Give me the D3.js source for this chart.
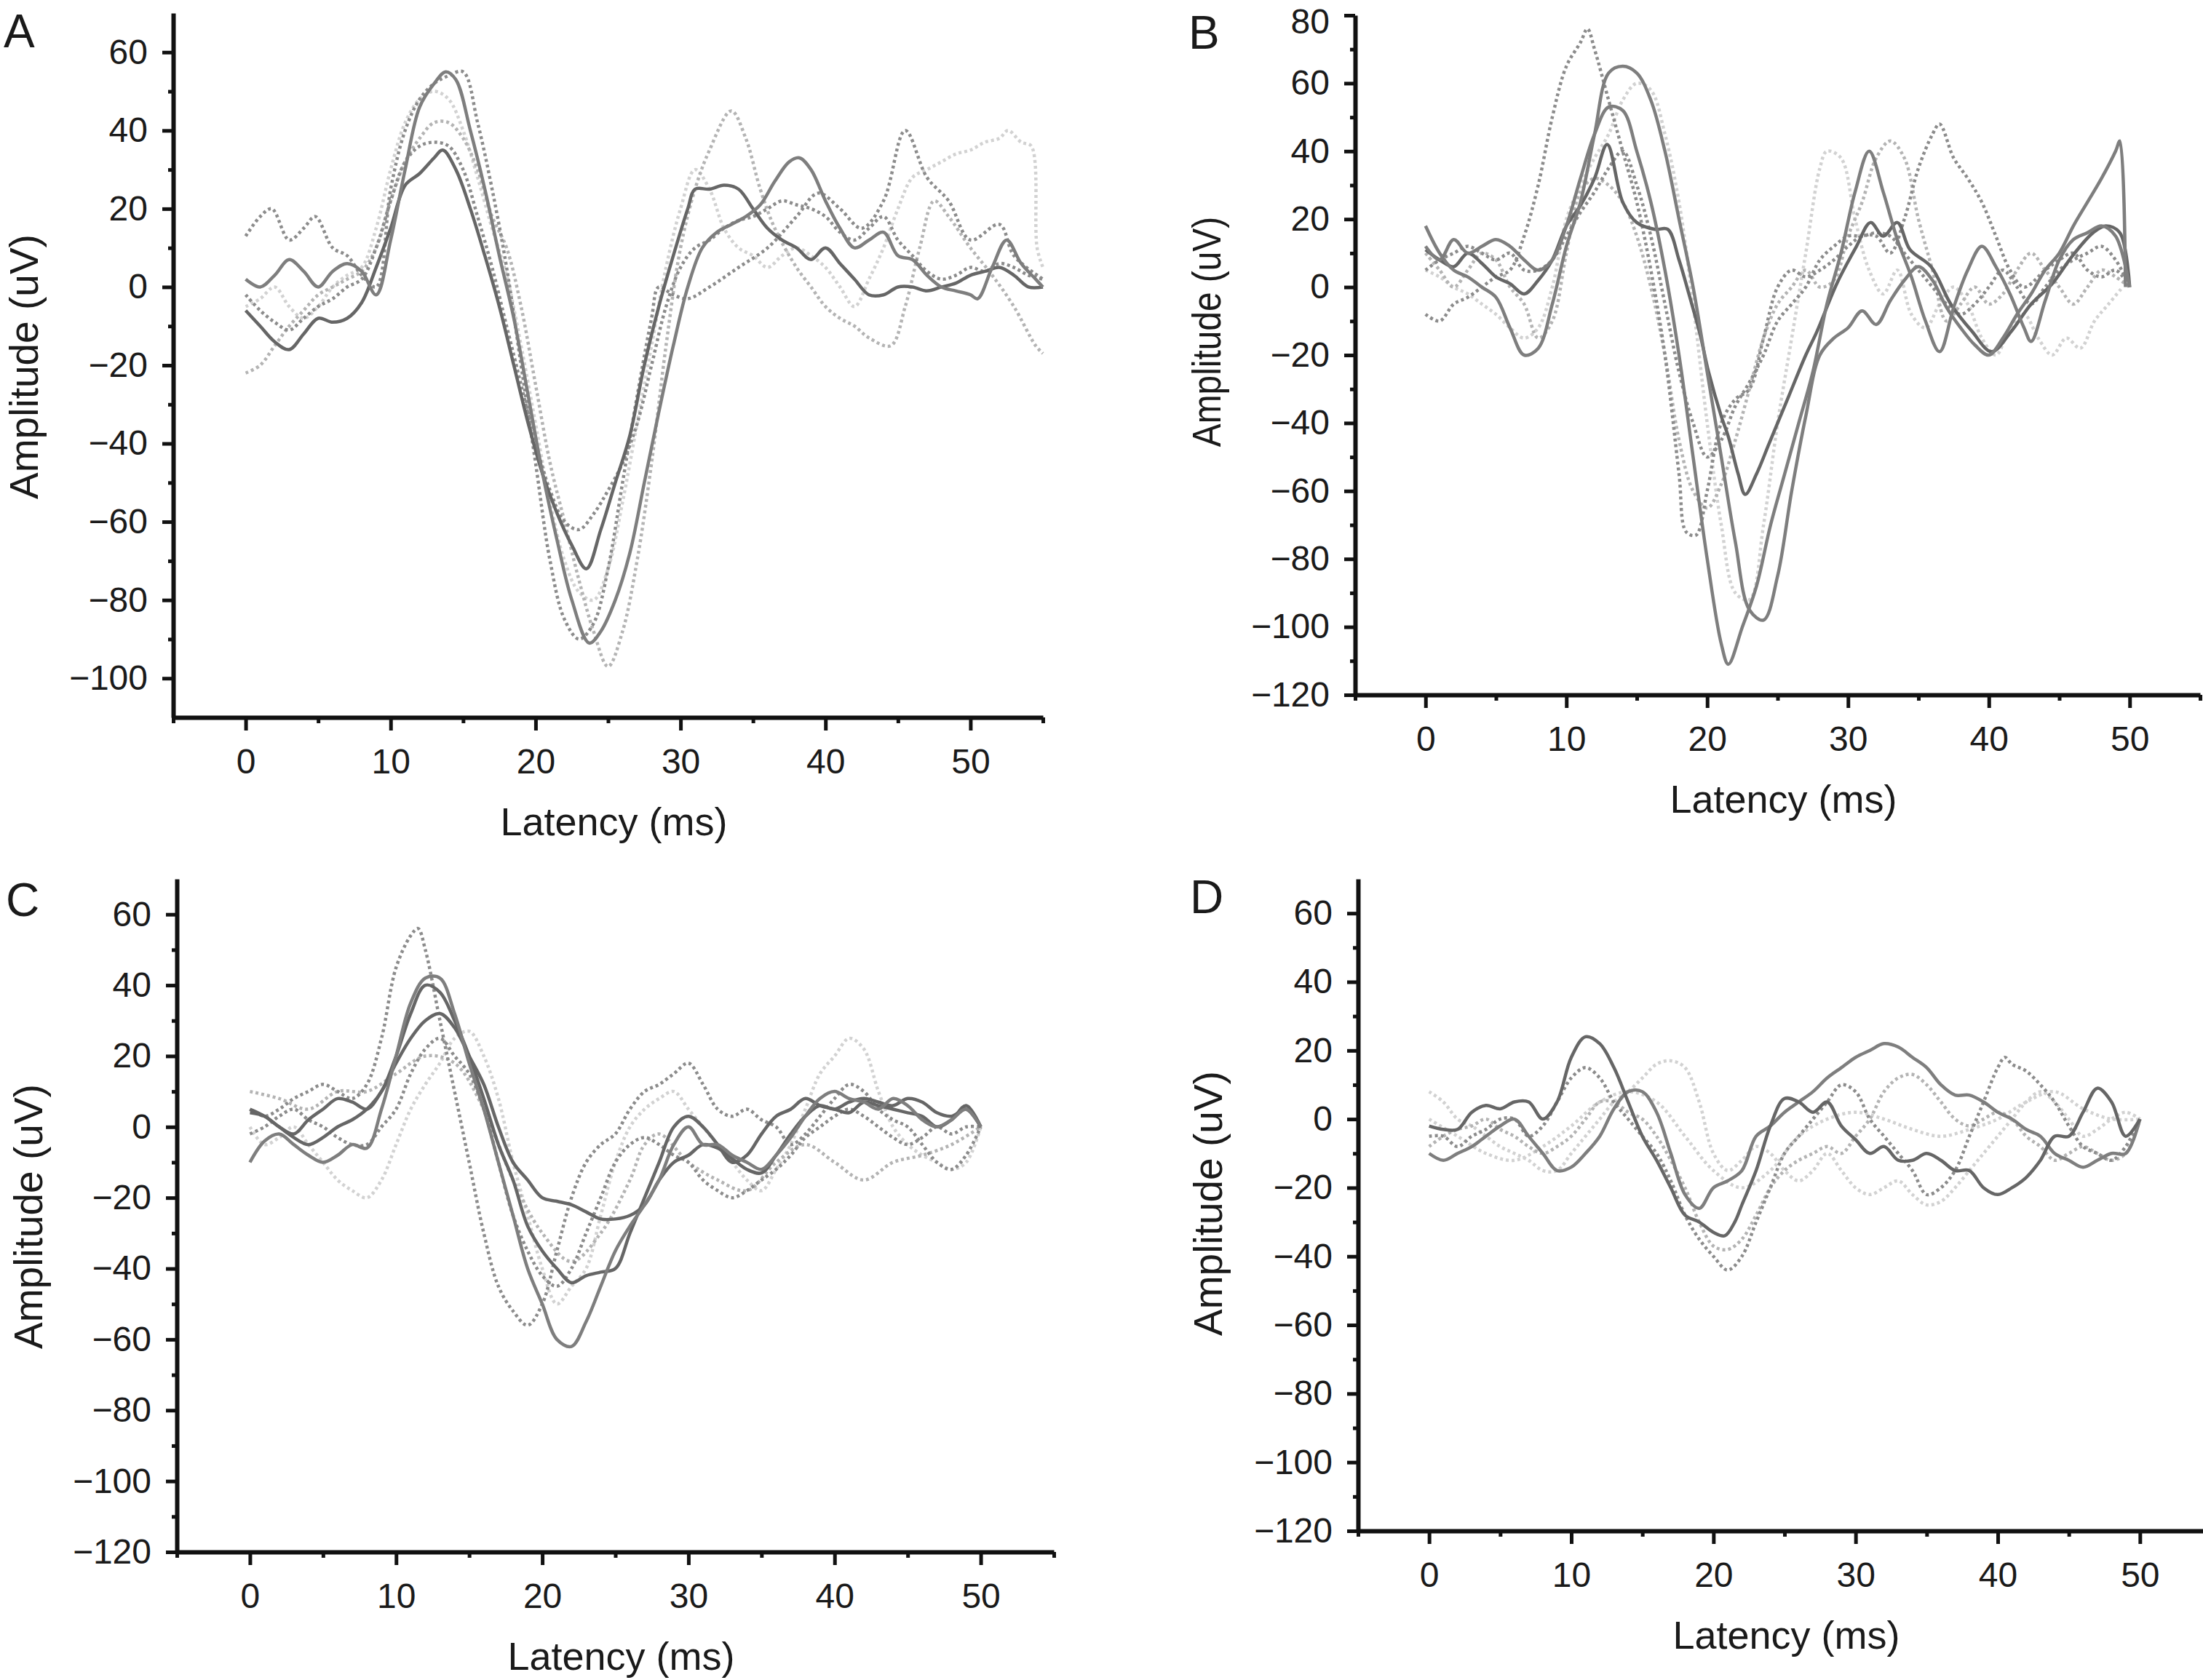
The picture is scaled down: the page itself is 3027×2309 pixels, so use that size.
<!DOCTYPE html>
<html>
<head>
<meta charset="utf-8">
<script src="https://cdn.jsdelivr.net/npm/d3@7.9.0/dist/d3.min.js"></script>
<style>
  body { margin: 0; background: #fff; }
  svg { display: block; }
  text { font-family: "Liberation Sans", Arial, sans-serif; fill: #1a1a1a; }
</style>
</head>
<body>
<svg id="chart" width="3027" height="2309"></svg>
<script>
// ---- tick values ----
const xTickLabels = [0, 10, 20, 30, 40, 50];
const xTickMajor = [0, 10, 20, 30, 40, 50];
const xTickMinor = [-5, 5, 15, 25, 35, 45, 55];

// ---- panel A traces: [latency ms, amplitude uV] ----
const aSolid1 = [[0,2],[1,0],[2,3],[3,7],[4,4],[5,0],[6,4],[7,6],[8,4],[9,-2],[10,12],[11,30],[12,46],[13,52],[13.8,55],[14.5,53],[15.5,40],[16.5,25],[17.5,8],[18.5,-8],[19.5,-28],[20.5,-48],[21.5,-65],[22.5,-80],[23.7,-91],[24.5,-88],[25.5,-80],[26.5,-68],[27.5,-50],[28.5,-32],[29.5,-15],[30.5,0],[31.5,10],[32.5,14],[33.5,16],[34.5,18],[35.5,21],[36.5,27],[37.5,32],[38.2,33],[39,30],[40,22],[41,15],[42,10],[43,12],[44,14],[45,8],[46,7],[47,3],[48,0],[49,-1],[50,-2],[50.5,-3],[51.5,5],[52.5,12],[53.5,6],[54.5,2],[55,0]];
const aSolid2 = [[0,-6],[1,-10],[2,-14],[3,-16],[4,-12],[5,-8],[6,-9],[7,-8],[8,-4],[9,5],[10,15],[11,26],[12,29],[13,33],[13.6,35],[14.5,30],[15.5,20],[16.5,8],[17.5,-5],[18.5,-20],[19.5,-35],[20.5,-48],[21.5,-58],[22.5,-66],[23.5,-72],[24.5,-62],[25.5,-50],[26.5,-38],[27.5,-20],[28.5,-5],[29.5,8],[30.5,20],[31,25],[32,25],[33,26],[34,25],[35,20],[36,15],[37,12],[38,10],[39,7],[40,10],[41,6],[42,2],[43,-2],[44,-2],[45,0],[46,0],[47,-1],[48,0],[49,1],[50,3],[51,4],[52,5],[53,3],[54,0],[55,0]];
const aDot1 = [[0,13],[1,18],[1.8,20],[3,12],[4,15],[4.8,18],[6,10],[7,8],[8,3],[9,0],[10,25],[11,40],[12,48],[13,52],[14,54],[15,55],[16,42],[17,25],[18,5],[19,-20],[20,-45],[21,-70],[22,-85],[23,-90],[24,-86],[25,-72],[26,-50],[27,-28],[28,-8],[28.5,0],[29.5,-2],[30.5,-3],[32,0],[34,5],[36,10],[38,18],[39.5,24],[41,20],[42.5,15],[44,22],[45.5,40],[47,28],[48.5,22],[50,12],[52,16],[53,8],[55,2]];
const aDot2 = [[0,-22],[1,-20],[2,-15],[3,-10],[4,-6],[5,-2],[6,0],[7,2],[8,4],[9,10],[10,22],[11,32],[12,38],[13,42],[14,42],[15,38],[16,30],[17,18],[18,10],[19,-5],[20,-25],[21,-45],[22,-60],[23,-75],[24,-88],[25,-97],[26,-88],[27,-70],[28,-45],[29,-15],[30,10],[31,25],[32,35],[33.5,45],[34.5,38],[35.5,25],[36.5,15],[38,5],[39,0],[40,-5],[41,-8],[42,-10],[43,-13],[44.5,-15],[45.5,-5],[46.5,10],[47.5,22],[48.5,18],[50,10],[51.5,3],[53,-5],[54.5,-15],[55,-17]];
const aDot3 = [[0,-5],[1,-3],[2,0],[3,-5],[4,-8],[5,-5],[6,0],[7,3],[8,5],[9,15],[10,30],[11,42],[12,48],[13,50],[14,48],[15,40],[16,28],[17,15],[18,3],[19,-15],[20,-35],[21,-55],[22,-70],[23,-78],[24,-80],[25,-72],[26,-55],[27,-35],[28,-15],[29,5],[30,20],[31,30],[32,25],[33,15],[34,10],[35,8],[36,5],[37,8],[38,10],[39,8],[40,5],[41,0],[42,-5],[43,2],[44,10],[45,20],[46,28],[47,30],[48,32],[49,34],[50,35],[51,37],[52,38],[52.6,40],[53.5,37],[54.2,36],[54.6,10],[55,5]];
const aDot4 = [[0,-2],[1,-6],[2,-9],[3,-11],[4,-8],[5,-5],[6,-3],[7,0],[8,2],[9,10],[10,22],[11,32],[12,36],[13,37],[14,36],[15,30],[16,18],[17,5],[18,-10],[19,-25],[20,-40],[21,-52],[22,-60],[23,-62],[24,-58],[25,-52],[26,-45],[27,-35],[28,-20],[29,-5],[30,5],[31,10],[32,12],[33,15],[34,17],[35,18],[36,20],[37,22],[38,21],[39,20],[40,18],[41,14],[42,12],[43,15],[44,18],[45,12],[46,8],[47,4],[48,2],[49,3],[50,5],[51,4],[52,6],[53,5],[54,3],[55,2]];

// ---- panel B traces ----
const bSolid1 = [[0,18],[1,10],[2,5],[3,3],[4,0],[5,-3],[6,-12],[7,-20],[8,-18],[9,-5],[10,12],[11,25],[12,45],[13,63],[14,65],[15,63],[16,55],[17,40],[18,20],[19,0],[20,-25],[21,-50],[22,-75],[23,-95],[24,-98],[25,-85],[26,-60],[27,-38],[28,-20],[29,-15],[30,-12],[31,-7],[32,-11],[33,-4],[34,2],[35,6],[36,2],[37,-6],[38,-12],[39,-17],[40,-20],[41,-15],[42,-8],[43,-2],[44,5],[45,10],[46,18],[47,25],[48,32],[49,40],[49.3,43],[49.7,0]];
const bSolid2 = [[0,12],[1,8],[2,14],[3,10],[4,12],[5,14],[6,12],[7,8],[8,5],[9,8],[10,18],[11,32],[12,45],[13,53],[14,52],[15,40],[16,25],[17,5],[18,-20],[19,-50],[20,-80],[21,-105],[21.5,-111],[22.5,-100],[23.5,-88],[24.5,-70],[25.5,-55],[26.5,-40],[27.5,-25],[28.5,-5],[29.5,10],[30.5,28],[31.5,40],[32.5,28],[33.5,14],[34.5,3],[35.5,-10],[36.5,-19],[37.5,-6],[38.5,5],[39.5,12],[40.5,6],[41.5,-2],[42.5,-12],[43,-16],[44,-4],[45,8],[46,14],[47,16],[48,18],[49,15],[50,0]];
const bSolid3 = [[0,11],[1,8],[2,6],[3,10],[4,7],[5,3],[6,1],[7,-2],[8,2],[9,8],[10,18],[11,24],[12,32],[12.9,42],[14,25],[15,19],[16.3,17],[17.2,17],[18,8],[18.7,-2],[19.5,-14],[20.1,-25],[21,-38],[21.5,-44],[22.2,-55],[22.7,-61],[23.5,-55],[24.4,-46],[25.8,-32],[27,-20],[27.8,-13],[29.2,1],[30.6,12],[31.6,19],[32.5,15],[33.5,19],[34.4,11],[35.9,6],[37.3,-5],[38.8,-13],[40.2,-19],[41.6,-13],[43,-5],[44.5,1],[45.9,9],[47.4,16],[48.3,18],[49.3,16],[50,0]];
const bDot1 = [[0,-8],[1,-10],[2,-5],[3,-3],[4,0],[5,3],[6,5],[7,15],[8,30],[9,50],[10,65],[11,72],[11.5,76],[12,70],[13,55],[14,40],[15,25],[16,5],[17,-20],[18,-55],[18.5,-72],[19.2,-73],[20,-60],[21,-40],[22,-33],[23,-30],[24,-15],[25,0],[26,5],[27,3],[28,5],[29,8],[30,12],[31,15],[32,15],[33,10],[34,20],[35,35],[36,45],[36.5,48],[37.5,38],[38.5,32],[39.5,25],[40.5,15],[41.5,5],[42.5,0],[44,5],[45,8],[46,10],[47,5],[48,3],[49,5],[50,0]];
const bDot2 = [[0,5],[1,3],[2,0],[3,-2],[4,-5],[5,-8],[6,-12],[7,-15],[8,-12],[9,0],[10,20],[11,30],[12,38],[13,45],[14,55],[15,60],[16,58],[17,45],[18,25],[19,-5],[20,-40],[21,-70],[22,-90],[23,-92],[24,-70],[25,-40],[26,-15],[27,10],[28,35],[28.5,40],[29.5,38],[30.5,20],[31.5,5],[32.5,-2],[33.5,5],[34.5,-8],[35.5,-12],[36.5,-5],[37.5,0],[38.5,-5],[39.5,-15],[40.5,-20],[41.5,-12],[42.5,-8],[43.5,-15],[44.5,-20],[45.5,-15],[46.5,-18],[47.5,-10],[48.5,-5],[49.5,0]];
const bDot3 = [[0,10],[1,5],[2,0],[3,5],[4,10],[5,8],[6,0],[7,-5],[8,-15],[9,-10],[10,10],[11,28],[12,32],[13,30],[14,25],[15,15],[16,0],[17,-20],[18,-45],[19,-60],[20,-65],[21,-58],[22,-45],[23,-30],[24,-15],[25,-5],[26,0],[27,5],[28,0],[29,2],[30,15],[31,25],[32,38],[33,43],[34,38],[35,20],[36,5],[37,-10],[38,-5],[39,0],[40,-5],[41,-2],[42,5],[43,10],[44,5],[45,0],[46,-5],[47,0],[48,5],[49,3],[50,0]];
const bDot4 = [[0,5],[1,8],[2,10],[3,12],[4,10],[5,8],[6,10],[7,5],[8,5],[9,8],[10,15],[11,22],[12,28],[13,35],[14,40],[15,30],[16,15],[17,-5],[18,-25],[19,-40],[20,-50],[21,-45],[22,-35],[23,-28],[24,-20],[25,-10],[26,-5],[27,0],[28,8],[29,12],[30,15],[31,15],[32,16],[33,15],[34,10],[35,5],[36,0],[37,-5],[38,-8],[39,-5],[40,0],[41,5],[42,0],[43,-5],[44,0],[45,5],[46,8],[47,10],[48,12],[49,8],[50,0]];

// ---- panel C traces ----
const cSolid1 = [[0,-10],[1,-4],[2,-2],[3,-5],[4,-8],[5,-10],[6,-8],[7,-5],[8,-6],[9,5],[10,20],[11,35],[12,42],[13,42],[14,32],[15,18],[16,5],[17,-10],[18,-25],[19,-40],[20,-50],[21,-60],[22,-62],[23,-55],[24,-45],[25,-35],[26,-28],[27,-22],[28,-15],[29,-5],[30,0],[31,-5],[32,-5],[33,-8],[34,-10],[35,-12],[36,-8],[37,-3],[38,3],[39,8],[40,10],[41,8],[42,7],[43,5],[44,8],[45,6],[46,2],[47,0],[48,2],[49,5],[50,0]];
const cSolid2 = [[0,5],[1,3],[2,0],[3,-3],[4,-5],[5,-3],[6,0],[7,2],[8,5],[9,10],[10,20],[11,32],[12,40],[13,38],[14,30],[15,20],[16,8],[17,-5],[18,-15],[19,-28],[20,-35],[21,-40],[22,-44],[23,-42],[24,-41],[25,-40],[26,-30],[27,-20],[28,-10],[29,0],[30,3],[31,0],[32,-5],[33,-10],[34,-8],[35,-2],[36,3],[37,5],[38,8],[39,6],[40,5],[41,4],[42,7],[43,6],[44,5],[45,4],[46,3],[47,0],[48,2],[49,6],[50,0]];
const cSolid3 = [[0,4],[1,3],[2,0],[3,-2],[4,2],[5,5],[6,8],[7,7],[8,5],[9,10],[10,18],[11,25],[12,30],[13,32],[14,28],[15,20],[16,12],[17,0],[18,-10],[19,-15],[20,-20],[21,-21],[22,-22],[23,-24],[24,-26],[25,-26],[26,-25],[27,-22],[28,-15],[29,-10],[30,-8],[31,-5],[32,-6],[33,-9],[34,-12],[35,-13],[36,-8],[37,-2],[38,3],[39,6],[40,5],[41,7],[42,8],[43,7],[44,6],[45,8],[46,7],[47,4],[48,3],[49,5],[50,0]];
const cDot1 = [[0,5],[1,3],[2,5],[3,8],[4,10],[5,12],[6,10],[7,8],[8,12],[9,25],[10,45],[11,54],[11.5,56],[12,50],[13,30],[14,10],[15,-10],[16,-30],[17,-45],[18,-52],[19,-56],[20,-50],[21,-35],[22,-20],[23,-10],[24,-5],[25,-2],[26,5],[27,10],[28,12],[29,15],[30,18],[31,12],[32,5],[33,3],[34,5],[35,2],[36,0],[37,-5],[38,-2],[39,3],[40,8],[41,12],[42,10],[43,5],[44,2],[45,0],[46,-5],[47,-10],[48,-12],[49,-8],[50,0]];
const cDot2 = [[0,0],[1,-5],[2,-3],[3,0],[4,-5],[5,-10],[6,-15],[7,-18],[8,-20],[9,-15],[10,-5],[11,5],[12,12],[13,18],[14,25],[15,27],[16,20],[17,8],[18,-10],[19,-25],[20,-40],[21,-50],[22,-45],[23,-40],[24,-25],[25,-10],[26,0],[27,5],[28,8],[29,10],[30,5],[31,0],[32,-5],[33,-10],[34,-15],[35,-18],[36,-12],[37,-5],[38,5],[39,15],[40,20],[41,25],[42,22],[43,10],[44,0],[45,-5],[46,-8],[47,-10],[48,-12],[49,-10],[50,0]];
const cDot3 = [[0,-2],[1,0],[2,3],[3,5],[4,2],[5,0],[6,-3],[7,-5],[8,-5],[9,0],[10,5],[11,15],[12,22],[13,25],[14,20],[15,15],[16,5],[17,-10],[18,-25],[19,-35],[20,-42],[21,-45],[22,-40],[23,-30],[24,-20],[25,-10],[26,-5],[27,-3],[28,-5],[29,-8],[30,-10],[31,-15],[32,-18],[33,-20],[34,-18],[35,-15],[36,-12],[37,-8],[38,-3],[39,0],[40,3],[41,5],[42,3],[43,0],[44,-3],[45,-5],[46,-3],[47,0],[48,-2],[49,0],[50,0]];
const cDot4 = [[0,10],[2,8],[4,5],[6,10],[8,10],[10,15],[12,20],[14,18],[16,5],[18,-15],[20,-30],[22,-38],[24,-30],[26,-15],[27,-5],[28,-2],[30,-10],[32,-15],[34,-18],[36,-10],[38,-5],[40,-10],[42,-15],[44,-10],[46,-8],[48,-5],[50,0]];

// ---- panel D traces ----
const dSolid1 = [[0,-2],[1,-3],[2,-3],[3,2],[4,4],[5,3],[6,5],[7,5],[8,0],[9,5],[10,18],[11,24],[12,22],[13,15],[14,5],[15,-5],[16,-12],[17,-20],[18,-28],[19,-30],[20,-33],[20.8,-34],[21.5,-30],[22,-25],[23,-15],[24,-2],[25,6],[26,5],[27,2],[28,5],[29,-2],[30,-6],[31,-10],[32,-8],[33,-12],[34,-12],[35,-10],[36,-12],[37,-15],[38,-15],[39,-20],[40,-22],[41,-20],[42,-17],[43,-12],[44,-5],[45,-5],[46,2],[47,9],[48,5],[49,-5],[50,0]];
const dSolid2 = [[0,-10],[1,-12],[2,-10],[3,-8],[4,-5],[5,-2],[6,0],[7,-5],[8,-10],[9,-15],[10,-14],[11,-10],[12,-5],[13,3],[14,8],[15,8],[16,2],[17,-10],[18,-22],[19,-26],[20,-20],[21,-18],[22,-15],[23,-5],[24,-2],[25,2],[26,5],[27,8],[28,12],[29,15],[30,18],[31,20],[32,22],[33,21],[34,18],[35,15],[36,10],[37,7],[38,7],[39,5],[40,2],[41,0],[42,-3],[43,-5],[44,-10],[45,-12],[46,-14],[47,-12],[48,-10],[49,-10],[50,0]];
const dDot1 = [[0,-5],[1,-5],[2,-8],[3,-5],[4,-3],[5,0],[6,0],[7,-5],[8,-2],[9,5],[10,12],[11,15],[12,12],[13,5],[14,0],[15,-5],[16,-10],[17,-18],[18,-28],[19,-35],[20,-40],[21,-44],[22,-40],[23,-30],[24,-20],[25,-10],[26,-5],[27,0],[28,5],[29,10],[30,8],[31,0],[32,-5],[33,-10],[34,-15],[35,-22],[36,-20],[37,-15],[38,-5],[39,5],[40,15],[40.5,18],[41,16],[42,14],[43,10],[44,5],[45,-2],[46,-8],[47,-10],[48,-12],[49,-8],[50,0]];
const dDot2 = [[0,8],[1,5],[2,0],[3,-2],[4,-5],[5,-8],[6,-10],[7,-12],[8,-15],[9,-15],[10,-10],[11,-5],[12,0],[13,5],[14,8],[15,12],[16,16],[17,17],[18,15],[19,5],[20,-10],[21,-15],[22,-12],[23,-8],[24,-10],[25,-15],[26,-18],[27,-15],[28,-10],[29,-15],[30,-20],[31,-22],[32,-20],[33,-18],[34,-22],[35,-25],[36,-24],[37,-20],[38,-15],[39,-10],[40,-5],[41,0],[42,5],[43,8],[44,5],[45,0],[46,-5],[47,-3],[48,0],[49,2],[50,0]];
const dDot3 = [[0,-8],[1,-5],[2,-3],[3,-2],[4,0],[5,-3],[6,-5],[7,-8],[8,-10],[9,-8],[10,-5],[11,0],[12,5],[13,5],[14,2],[15,0],[16,-5],[17,-12],[18,-20],[19,-30],[20,-37],[21,-38],[22,-35],[23,-28],[24,-20],[25,-15],[26,-12],[27,-10],[28,-8],[29,-10],[30,-5],[31,0],[32,8],[33,12],[34,13],[35,10],[36,5],[37,0],[38,-2],[39,0],[40,2],[41,0],[42,-5],[43,-8],[44,-12],[45,-10],[46,-8],[47,-10],[48,-12],[49,-10],[50,0]];
const dDot4 = [[0,0],[2,-5],[4,-10],[6,-12],[8,-8],[10,-2],[12,5],[14,8],[16,5],[18,-5],[20,-15],[22,-20],[24,-15],[26,-5],[28,0],[30,2],[32,0],[34,-3],[36,-5],[38,-3],[40,0],[42,5],[44,8],[46,3],[48,0],[50,0]];

// ---- line styles ----
const styles = {
  solidDark: { color: '#666666', dash: null },
  solidMid:  { color: '#7e7e7e', dash: null },
  dotMid:    { color: '#8c8c8c', dash: '4 4' },
  dotLight:  { color: '#b4b4b4', dash: '4 4' },
  dotFaint:  { color: '#d2d2d2', dash: '4 4' },
};

// ---- panels (layout only) ----
const panels = [
  { letter: 'A', lx: 5, ly: 65, xr: [238, 1433], yd: [-110, 70], yr: [986, 18],
    ticks: d3.range(-100, 61, 20), minor: d3.range(-90, 61, 20), ytc: 504, ytx: 52, ytScale: 1,
    traces: [[aDot3,'dotFaint'],[aDot2,'dotLight'],[aDot4,'dotMid'],[aDot1,'dotMid'],[aSolid2,'solidDark'],[aSolid1,'solidMid']] },
  { letter: 'B', lx: 1633, ly: 67, xr: [1862, 3023], yd: [-120, 80], yr: [955, 21],
    ticks: d3.range(-120, 81, 20), minor: d3.range(-110, 71, 20), ytc: 456, ytx: 1677, ytScale: 0.87,
    traces: [[bDot2,'dotFaint'],[bDot3,'dotLight'],[bDot4,'dotMid'],[bDot1,'dotMid'],[bSolid3,'solidDark'],[bSolid1,'solidMid'],[bSolid2,'solidMid']] },
  { letter: 'C', lx: 8, ly: 1259, xr: [243, 1448], yd: [-120, 70], yr: [2133, 1208],
    ticks: d3.range(-120, 61, 20), minor: d3.range(-110, 61, 20), ytc: 1672, ytx: 58, ytScale: 1,
    traces: [[cDot2,'dotFaint'],[cDot4,'dotLight'],[cDot3,'dotMid'],[cDot1,'dotMid'],[cSolid3,'solidDark'],[cSolid2,'solidDark'],[cSolid1,'solidMid']] },
  { letter: 'D', lx: 1635, ly: 1255, xr: [1866, 3038], yd: [-120, 70], yr: [2104, 1208],
    ticks: d3.range(-120, 61, 20), minor: d3.range(-110, 61, 20), ytc: 1654, ytx: 1679, ytScale: 1,
    traces: [[dDot4,'dotFaint'],[dDot2,'dotFaint'],[dDot3,'dotLight'],[dDot1,'dotMid'],[dSolid2,'solidMid'],[dSolid1,'solidDark']] },
];

const svg = d3.select('#chart');
const fmt = (d) => (d < 0 ? '\u2212' + Math.abs(d) : String(d));

function drawPanel(p) {
  let x = d3.scaleLinear().domain([-5, 55]).range(p.xr);
  let y = d3.scaleLinear().domain(p.yd).range(p.yr);
  let g = svg.append('g');
  let x0 = p.xr[0];
  let y0 = p.yr[0];

  // traces
  let line = d3.line()
    .x((d) => x(d[0]))
    .y((d) => y(d[1]))
    .curve(d3.curveCatmullRom.alpha(0.5));
  p.traces.forEach(([pts, key]) => {
    let s = styles[key];
    g.append('path')
      .attr('d', line(pts))
      .attr('fill', 'none')
      .attr('stroke', s.color)
      .attr('stroke-width', 4.5)
      .attr('stroke-linejoin', 'round')
      .attr('stroke-dasharray', s.dash);
  });

  // y axis: major ticks with labels, short minor ticks
  let yAxis = g.append('g').attr('transform', `translate(${x0},0)`)
    .call(d3.axisLeft(y).tickValues(p.ticks).tickFormat(fmt).tickSize(15).tickPadding(20).tickSizeOuter(0));
  g.append('g').attr('transform', `translate(${x0},0)`)
    .call(d3.axisLeft(y).tickValues(p.minor).tickFormat('').tickSize(7).tickSizeOuter(0))
    .select('.domain').remove();

  // x axis
  g.append('g').attr('transform', `translate(0,${y0})`)
    .call(d3.axisBottom(x).tickValues(xTickMajor).tickFormat('').tickSize(18).tickSizeOuter(0));
  g.append('g').attr('transform', `translate(0,${y0})`)
    .call(d3.axisBottom(x).tickValues(xTickMinor).tickFormat('').tickSize(8).tickSizeOuter(0))
    .select('.domain').remove();
  g.append('g').attr('transform', `translate(0,${y0})`)
    .call(d3.axisBottom(x).tickValues(xTickLabels).tickFormat(fmt).tickSize(0).tickPadding(43))
    .select('.domain').remove();

  g.selectAll('.domain').attr('stroke', '#111').attr('stroke-width', 6);
  g.selectAll('.tick line').attr('stroke', '#111').attr('stroke-width', 5);
  g.selectAll('.tick text')
    .attr('font-size', 48)
    .attr('font-family', '"Liberation Sans", Arial, sans-serif')
    .attr('fill', '#1a1a1a');

  // keep a label that sits at the very top edge inside the page
  yAxis.selectAll('.tick text')
    .filter((d) => y(d) < 30)
    .attr('dy', '0.5em');

  // titles
  g.append('text')
    .attr('x', (p.xr[0] + Math.min(p.xr[1], 3027)) / 2 + 8)
    .attr('y', y0 + 162)
    .attr('text-anchor', 'middle')
    .attr('font-size', 54)
    .text('Latency (ms)');
  g.append('text')
    .attr('transform', `translate(${p.ytx},${p.ytc}) rotate(-90) scale(${p.ytScale},1)`)
    .attr('text-anchor', 'middle')
    .attr('font-size', 55)
    .text('Amplitude (uV)');
  g.append('text')
    .attr('x', p.lx)
    .attr('y', p.ly)
    .attr('font-size', 64)
    .text(p.letter);
}

panels.forEach(drawPanel);
</script>
</body>
</html>
